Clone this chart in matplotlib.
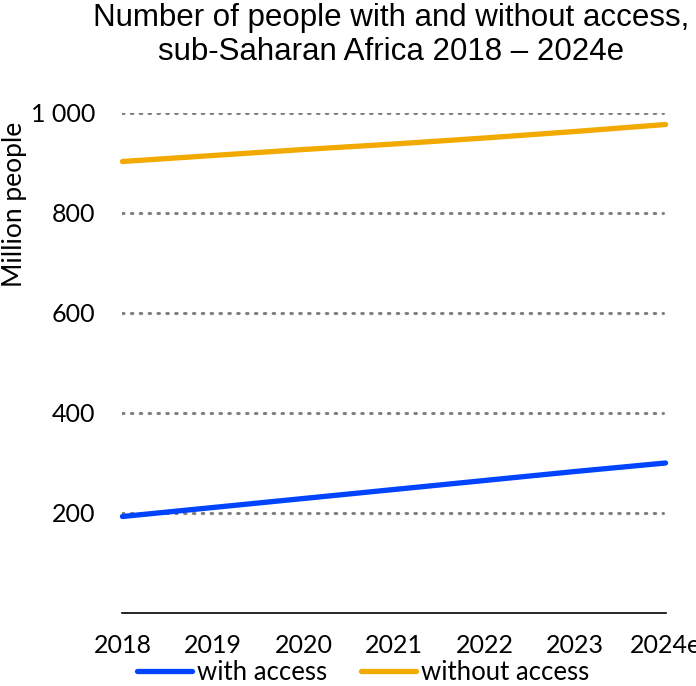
import matplotlib
matplotlib.use("Agg")
from matplotlib import pyplot as plt

years = ["2018", "2019", "2020", "2021", "2022", "2023", "2024e"]
with_access = [193, 211, 229, 247, 265, 283, 300]
without_access = [903, 915, 927, 938, 950, 963, 977]
yticks = [200, 400, 600, 800, 1000]
ytick_labels = ["200", "400", "600", "800", "1 000"]

W, H = 696, 686
fig = plt.figure(figsize=(W / 100, H / 100), dpi=100)
ax = fig.add_axes([122 / W, (H - 613) / H, (666 - 122) / W, 500 / H])

x = list(range(len(years)))
for yv in yticks:
    ax.plot([x[0], x[-1] - 0.03], [yv, yv], color="#808080", lw=2.2,
            linestyle=(0, (0.5, 2.4)), dash_capstyle="round", zorder=1)
ax.plot(x, with_access, color="#0044FF", lw=3.8, solid_capstyle="round",
        label="with access", clip_on=False, zorder=3)
ax.plot(x, without_access, color="#F2A900", lw=3.8, solid_capstyle="round",
        label="without access", clip_on=False, zorder=3)

ax.set_xlim(-0.005, 6.005)
ax.set_ylim(0, 1000)
for s in ["top", "right", "left"]:
    ax.spines[s].set_visible(False)
ax.spines["bottom"].set_color("#000000")
ax.spines["bottom"].set_linewidth(1.2)

lbl_font = "Lato"
ax.set_xticks(x)
ax.set_xticklabels(years, fontsize=18, fontfamily=lbl_font)
ax.set_yticks(yticks)
ax.set_yticklabels(ytick_labels, fontsize=18, fontfamily=lbl_font)
ax.tick_params(axis="both", length=0)
ax.tick_params(axis="x", pad=15)
ax.tick_params(axis="y", pad=19)

fig.text(15 / W, 1 - 204 / H, "Million people", rotation=90, ha="center",
         va="center", fontsize=19, fontfamily=lbl_font)

fig.text(391 / W, 1 - 35 / H,
         "Number of people with and without access,\nsub-Saharan Africa 2018 \u2013 2024e",
         ha="center", va="center", fontsize=22.5, fontfamily="Liberation Sans",
         linespacing=1.15)

fig.legend(loc="center", bbox_to_anchor=(363 / W, 1 - 672 / H), ncol=2,
           frameon=False, prop={"family": lbl_font, "size": 18.5},
           handlelength=2.15, handletextpad=0.2, columnspacing=1.3,
           borderaxespad=0)

fig.savefig("out.png", dpi=100)
